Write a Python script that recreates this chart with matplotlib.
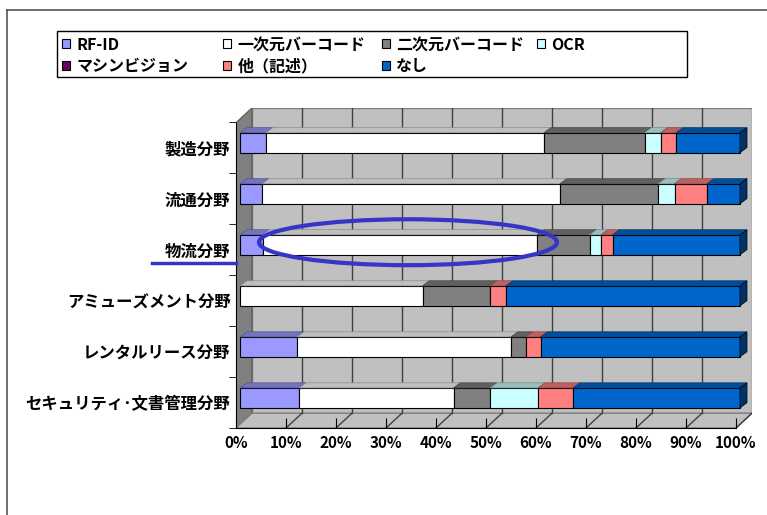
import numpy as np
import matplotlib.pyplot as plt
import matplotlib.colors as mcolors
from matplotlib.patches import Patch, Polygon, Rectangle, Ellipse
from matplotlib.lines import Line2D

plt.rcParams['font.family'] = ['Noto Sans CJK JP', 'DejaVu Sans']
plt.rcParams['font.weight'] = 'bold'

# データ（％）
categories = ['製造分野', '流通分野', '物流分野', 'アミューズメント分野',
              'レンタルリース分野', 'セキュリティ･文書管理分野']
series_names = ['RF-ID', '一次元バーコード', '二次元バーコード', 'OCR',
                'マシンビジョン', '他（記述）', 'なし']
rfid = [5.2, 4.4, 4.5, 0.0, 11.4, 11.8]
barcode_1d = [55.6, 59.6, 54.9, 36.5, 42.8, 30.9]
barcode_2d = [20.1, 19.6, 10.5, 13.5, 3.0, 7.3]
ocr = [3.2, 3.3, 2.3, 0.0, 0.0, 9.6]
machine_vision = [0.0, 0.0, 0.0, 0.0, 0.0, 0.0]
other = [3.1, 6.5, 2.3, 3.2, 2.9, 7.0]
none_ = [12.8, 6.6, 25.5, 46.8, 39.9, 33.4]
xticks = list(range(0, 101, 10))

series = [rfid, barcode_1d, barcode_2d, ocr, machine_vision, other, none_]
colors = ['#9999FF', '#FFFFFF', '#808080', '#CCFFFF', '#660066', '#FF8080', '#0066CC']


def shade(c, f):
    r, g, b = mcolors.to_rgb(c)
    return (r * f, g * f, b * f)


fig = plt.figure(figsize=(7.67, 5.15), dpi=100)
ax = fig.add_axes([236 / 767, 87 / 515, 516 / 767, 320 / 515])
ymin, ymax = -0.5, 5.77
ax.set_xlim(0, 103.2)
ax.set_ylim(ymin, ymax)

DX, DY = 3.2, 0.29      # 壁の奥行き
ox, oy = 0.8, 0.09      # 棒の前面位置
h = 0.39
bdx, bdy = 1.4, 0.1     # 棒の奥行き

# 背面の壁・側面・床
ax.add_patch(Rectangle((DX, ymin + DY), 100, ymax - ymin - DY, fc='#C0C0C0',
                       ec='#808080', lw=1, zorder=0))
ax.add_patch(Polygon([(0, ymin), (DX, ymin + DY), (DX, ymax), (0, ymax - DY)],
                     fc='#808080', ec='#606060', lw=1, zorder=0))
ax.add_patch(Polygon([(0, ymin), (100, ymin), (100 + DX, ymin + DY), (DX, ymin + DY)],
                     fc='#C0C0C0', ec='#808080', lw=1, zorder=0))
for x in xticks[1:]:
    if x < 100:
        ax.plot([x + DX, x + DX], [ymin + DY, ymax], color='#404040', lw=1, zorder=0.5)
    ax.plot([x, x + DX], [ymin, ymin + DY], color='#404040', lw=1, zorder=0.5)

# 積み上げ棒
yc = np.arange(len(categories))[::-1].astype(float)
left = np.zeros(len(categories))
for vals, col in zip(series, colors):
    vals = np.array(vals)
    m = vals > 0
    ax.barh(yc[m] + oy, vals[m], left=left[m] + ox, height=h, color=col,
            edgecolor='black', lw=0.8, zorder=3)
    for y, l, w in zip(yc[m], left[m], vals[m]):
        top = y + oy + h / 2
        ax.add_patch(Polygon([(l + ox, top), (l + ox + w, top),
                              (l + ox + w + bdx, top + bdy), (l + ox + bdx, top + bdy)],
                             fc=shade(col, 0.75), ec=shade(col, 0.55), lw=0.5, zorder=3))
    left += vals
for y, r in zip(yc, left):
    bot, top = y + oy - h / 2, y + oy + h / 2
    ax.add_patch(Polygon([(r + ox, bot), (r + ox + bdx, bot + bdy),
                          (r + ox + bdx, top + bdy), (r + ox, top)],
                         fc=shade(colors[-1], 0.5), ec='black', lw=0.5, zorder=3))

# 軸
for s in ['top', 'right']:
    ax.spines[s].set_visible(False)
ax.spines['left'].set_bounds(ymin, ymax - DY)
ax.spines['bottom'].set_bounds(0, 100)
ax.set_xticks(xticks)
ax.set_xticklabels([f'{v}%' for v in xticks], fontsize=11)
ax.tick_params(axis='x', direction='in', length=7, pad=5)
ax.set_yticks(yc)
ax.set_yticklabels(categories, fontsize=11.8)
ax.set_yticks(np.arange(ymin, 5.6, 1), minor=True)
ax.tick_params(axis='y', which='major', length=0, pad=4)
ax.tick_params(axis='y', which='minor', length=5, direction='out')

# 注釈（青い楕円と下線）
ax.add_patch(Ellipse((34.4, 3.14), 59.6, 0.9, fill=False, ec='#3535C8', lw=3,
                     zorder=6, clip_on=False))
ax.plot([-16.8, 0], [2.74, 2.74], color='#3535C8', lw=2.5, clip_on=False, zorder=6)

# 凡例
fig.add_artist(Rectangle((57 / 767, 1 - 77 / 515), 630 / 767, 46 / 515,
                         transform=fig.transFigure, fc='white', ec='black', lw=1))
handles = [Patch(fc=c, ec='black', lw=0.8, label=n) for c, n in zip(colors, series_names)]
columns = [[0, 4], [1, 5], [2, 6], [3]]
col_x = [62, 223, 382, 537]
for idx, cx in zip(columns, col_x):
    fig.legend(handles=[handles[i] for i in idx], loc='upper left',
               bbox_to_anchor=(cx / 767, 1 - 36.5 / 515), frameon=False, fontsize=11.5,
               handlelength=0.5, handleheight=0.5, handletextpad=0.4,
               labelspacing=0.35, borderpad=0, borderaxespad=0)

# 外枠
fig.add_artist(Line2D([7 / 767, 7 / 767], [0, 1 - 10 / 515], transform=fig.transFigure,
                      color='#555555', lw=1.2))
fig.add_artist(Line2D([7 / 767, 1], [1 - 10 / 515, 1 - 10 / 515], transform=fig.transFigure,
                      color='#555555', lw=1.2))

fig.savefig('out.png', dpi=100)
